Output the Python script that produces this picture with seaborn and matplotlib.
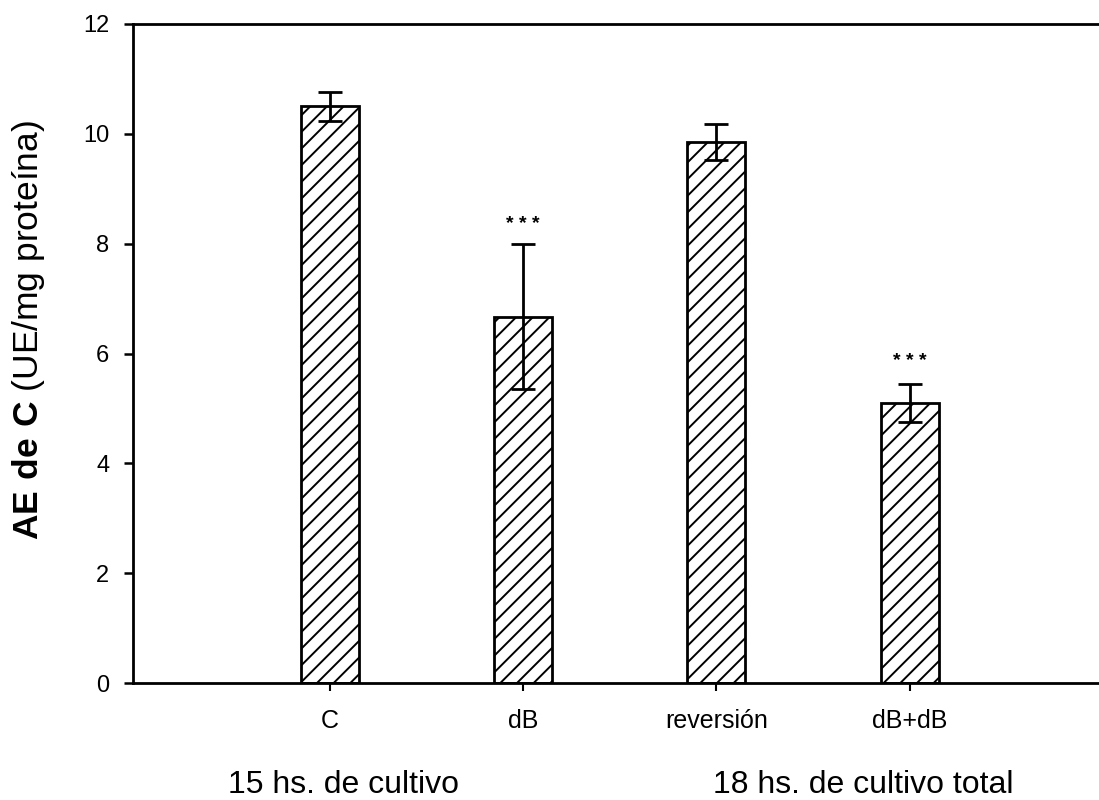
import matplotlib
matplotlib.use("Agg")
import matplotlib.pyplot as plt
import seaborn as sns
import pandas as pd

categories = ["C", "dB", "reversión", "dB+dB"]
values = [10.5, 6.67, 9.85, 5.1]
errors = [0.27, 1.32, 0.32, 0.34]
signif = ["", "* * *", "", "* * *"]
signif_y = [0, 8.35, 0, 5.85]
group_labels = ["15 hs. de cultivo", "18 hs. de cultivo total"]
yticks = [0, 2, 4, 6, 8, 10, 12]

sns.set_theme(style="white")
plt.rcParams["font.family"] = ["Liberation Sans", "DejaVu Sans"]
plt.rcParams["mathtext.fontset"] = "custom"
plt.rcParams["mathtext.rm"] = "Liberation Sans"
plt.rcParams["mathtext.bf"] = "Liberation Sans:bold"
plt.rcParams["hatch.linewidth"] = 1.4
plt.rcParams["hatch.color"] = "black"
for k in ["text.color", "xtick.color", "ytick.color", "axes.labelcolor", "axes.edgecolor"]:
    plt.rcParams[k] = "black"

df = pd.DataFrame({"cat": categories, "val": values})

fig = plt.figure(figsize=(10.99, 8.0), dpi=100)
ax = fig.add_axes([133 / 1099, 1 - 683 / 800, 1 - 133 / 1099, (683 - 24) / 800])

sns.barplot(data=df, x="cat", y="val", ax=ax, color="white", width=0.3,
            edgecolor="black", linewidth=2, saturation=1)
for p in ax.patches:
    p.set_hatch("//")
    p.set_facecolor("white")
    p.set_edgecolor("black")

xs = ax.get_xticks()
ax.errorbar(xs, values, yerr=errors, fmt="none", ecolor="black",
            elinewidth=2, capsize=8.5, capthick=2, zorder=5)
for x, s, y in zip(xs, signif, signif_y):
    if s:
        ax.text(x, y, s, ha="center", va="center", fontsize=14, fontweight="bold",
                color="black")

ax.set_xlim(-1.02, 3.98)
ax.set_ylim(0, 12)
ax.set_yticks(yticks)
ax.set_yticklabels([str(v) for v in yticks], fontsize=17)
ax.set_xticks(xs)
ax.set_xticklabels(categories, fontsize=18)
ax.tick_params(axis="y", direction="out", length=6.5, width=1.8, left=True, pad=10.5,
               colors="black")
ax.tick_params(axis="x", direction="out", length=5.5, width=1.5, bottom=True, pad=13,
               colors="black")
ax.set_xlabel("")
ax.set_ylabel("")

for side in ["left", "top", "bottom"]:
    ax.spines[side].set_visible(True)
    ax.spines[side].set_color("black")
    ax.spines[side].set_linewidth(2)
ax.spines["right"].set_visible(False)

fig.text(29 / 1099, 1 - 330 / 800, r"$\mathbf{AE\ de\ C}$ (UE/mg proteína)",
         rotation=90, ha="center", va="center", fontsize=25.5, color="black")
fig.text(343 / 1099, 1 - 793 / 800, group_labels[0], ha="center", va="baseline",
         fontsize=23, color="black")
fig.text(863 / 1099, 1 - 793 / 800, group_labels[1], ha="center", va="baseline",
         fontsize=23, color="black")

fig.savefig("out.png", dpi=100, facecolor="white")
